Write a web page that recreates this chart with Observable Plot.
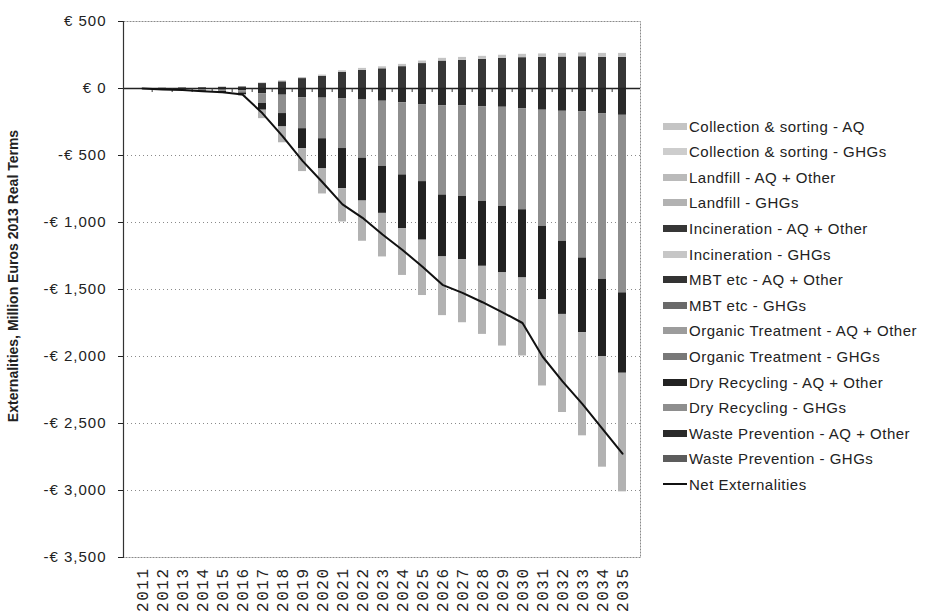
<!DOCTYPE html>
<html>
<head>
<meta charset="utf-8">
<script src="https://cdn.jsdelivr.net/npm/d3@7"></script>
<script src="https://cdn.jsdelivr.net/npm/@observablehq/plot@0.6"></script>
<style>
  body { margin: 0; background: #fff; }
  #wrap { position: relative; width: 925px; height: 615px; font-family: Arial, "Liberation Sans", sans-serif; color: #222; }
  #legend { position: absolute; left: 663px; top: 0; }
  .row { position: absolute; left: 0; height: 20px; display: flex; align-items: center; white-space: nowrap; font-size: 15px; letter-spacing: 0.5px; }
  .sw { width: 24px; height: 7px; margin-right: 2px; }
  .ln { width: 24px; height: 0; border-top: 2px solid #111; margin-right: 2px; }
  #ytitle { position: absolute; left: 13px; top: 276px; transform: translate(-50%, -50%) rotate(-90deg); white-space: nowrap; font-size: 14px; font-weight: bold; color: #222; }
  g[aria-label="y-axis tick label"] text { letter-spacing: 1px; }
  g[aria-label="x-axis tick label"] text { letter-spacing: 1.5px; }
</style>
</head>
<body>
<div id="wrap">
  <div id="ytitle">Externalities, Million Euros 2013 Real Terms</div>
  <div id="legend"></div>
</div>
<script>
// Categories
const years = ["2011","2012","2013","2014","2015","2016","2017","2018","2019","2020","2021","2022","2023","2024","2025","2026","2027","2028","2029","2030","2031","2032","2033","2034","2035"];

// Visible stacked series (million EUR, 2013 real terms), in stacking order
const wastePreventionAQ = [0,-3,-5,-8,-12,-18,-40,-50,-70,-72,-78,-82,-95,-107,-120,-130,-130,-135,-140,-150,-162,-170,-175,-190,-200];
const dryRecyclingGHG   = [0,-2,-4,-7,-10,-15,-72,-137,-230,-303,-370,-438,-487,-538,-575,-665,-676,-708,-740,-755,-867,-971,-1090,-1235,-1325];
const dryRecyclingAQ    = [0,-2,-4,-6,-8,-12,-50,-100,-150,-225,-300,-320,-350,-400,-437,-462,-471,-484,-496,-509,-546,-545,-558,-575,-600];
const landfillGHG       = [0,-2,-3,-6,-8,-12,-63,-118,-170,-187,-248,-300,-325,-350,-413,-438,-471,-508,-546,-582,-645,-732,-769,-826,-885];
const incinerationAQ    = [0,2,4,6,9,12,37,50,74,90,120,136,147,163,186,205,210,217,224,230,232,235,237,233,232];
const collectionAQ      = [0,0,0,1,1,2,5,7,8,10,12,14,15,17,19,20,22,23,24,25,26,27,28,29,30];

// Net externalities line
const netExternalities = [0,-7,-12,-20,-28,-45,-185,-355,-540,-700,-865,-965,-1090,-1205,-1330,-1465,-1525,-1595,-1670,-1750,-2000,-2185,-2355,-2540,-2725];

// Legend (order as in the reference)
const legendNames = [
  "Collection & sorting - AQ","Collection & sorting - GHGs","Landfill - AQ + Other","Landfill - GHGs",
  "Incineration - AQ + Other","Incineration - GHGs","MBT etc - AQ + Other","MBT etc - GHGs",
  "Organic Treatment - AQ + Other","Organic Treatment - GHGs","Dry Recycling - AQ + Other","Dry Recycling - GHGs",
  "Waste Prevention - AQ + Other","Waste Prevention - GHGs"
];
const legendColors = [
  "#c4c4c4","#cdcdcd","#bababa","#b2b2b2",
  "#363636","#c6c6c6","#333333","#6a6a6a",
  "#9c9c9c","#787878","#222222","#8e8e8e",
  "#2a2a2a","#5c5c5c"
];
const lineName = "Net Externalities";

// Y ticks
const yTicks = [500,0,-500,-1000,-1500,-2000,-2500,-3000,-3500];
const gridTicks = [-500,-1000,-1500,-2000,-2500,-3000];

const stackSeries = [
  ["Waste Prevention - AQ + Other", wastePreventionAQ],
  ["Dry Recycling - GHGs", dryRecyclingGHG],
  ["Dry Recycling - AQ + Other", dryRecyclingAQ],
  ["Landfill - GHGs", landfillGHG],
  ["Incineration - AQ + Other", incinerationAQ],
  ["Collection & sorting - AQ", collectionAQ]
];
const table = stackSeries.flatMap(([name, vals]) => years.map((year, i) => ({year, series: name, value: vals[i]})));
const netTable = years.map((year, i) => ({year, net: netExternalities[i]}));

const fmt = d3.format(",");
const tickFormat = d => (d < 0 ? "-€ " : "€ ") + fmt(Math.abs(d));

const plotLeft = 123, plotRight = 640;
const halfStep = (plotRight - plotLeft) / years.length / 2;

const chart = Plot.plot({
  width: 925,
  height: 615,
  marginLeft: plotLeft,
  marginRight: 925 - plotRight,
  marginTop: 21,
  marginBottom: 58,
  style: {fontFamily: "Arial, 'Liberation Sans', sans-serif", fontSize: "15px", color: "#222", background: "transparent"},
  x: {type: "band", domain: years, paddingInner: 0.6, paddingOuter: 0.3, label: null},
  y: {domain: [-3500, 500], label: null},
  color: {domain: legendNames, range: legendColors},
  marks: [
    Plot.ruleY(gridTicks, {stroke: "#8a8a8a", strokeDasharray: "1,3"}),
    Plot.frame({stroke: "#8a8a8a", strokeDasharray: "2,1"}),
    Plot.barY(table, {x: "year", y: "value", fill: "series"}),
    Plot.ruleY([0], {stroke: "#222", strokeWidth: 1.3}),
    Plot.ruleX(years.slice(1), {x: d => d, y1: 0, y2: -30, dx: -halfStep, stroke: "#333"}),
    Plot.line(netTable, {x: "year", y: "net", stroke: "#111", strokeWidth: 2}),
    Plot.frame({anchor: "left", stroke: "#333", strokeWidth: 1.2}),
    Plot.axisY({ticks: yTicks, tickFormat, tickSize: 5, tickPadding: 12, fontSize: 15}),
    Plot.axisX({tickRotate: -90, tickSize: 0, tickPadding: 10, fontFamily: "'Liberation Mono', 'Courier New', monospace", fontSize: 16})
  ]
});
document.getElementById("wrap").prepend(chart);
chart.style.position = "absolute";
chart.style.left = "0";
chart.style.top = "0";

// Legend
const legend = document.getElementById("legend");
const rowTop = 116, rowStep = 25.6;
legendNames.forEach((name, i) => {
  const r = document.createElement("div");
  r.className = "row";
  r.style.top = (rowTop + i * rowStep) + "px";
  const s = document.createElement("span");
  s.className = "sw";
  s.style.background = legendColors[i];
  r.appendChild(s);
  r.appendChild(document.createTextNode(name));
  legend.appendChild(r);
});
{
  const r = document.createElement("div");
  r.className = "row";
  r.style.top = (rowTop + legendNames.length * rowStep) + "px";
  const s = document.createElement("span");
  s.className = "ln";
  r.appendChild(s);
  r.appendChild(document.createTextNode(lineName));
  legend.appendChild(r);
}
</script>
</body>
</html>
